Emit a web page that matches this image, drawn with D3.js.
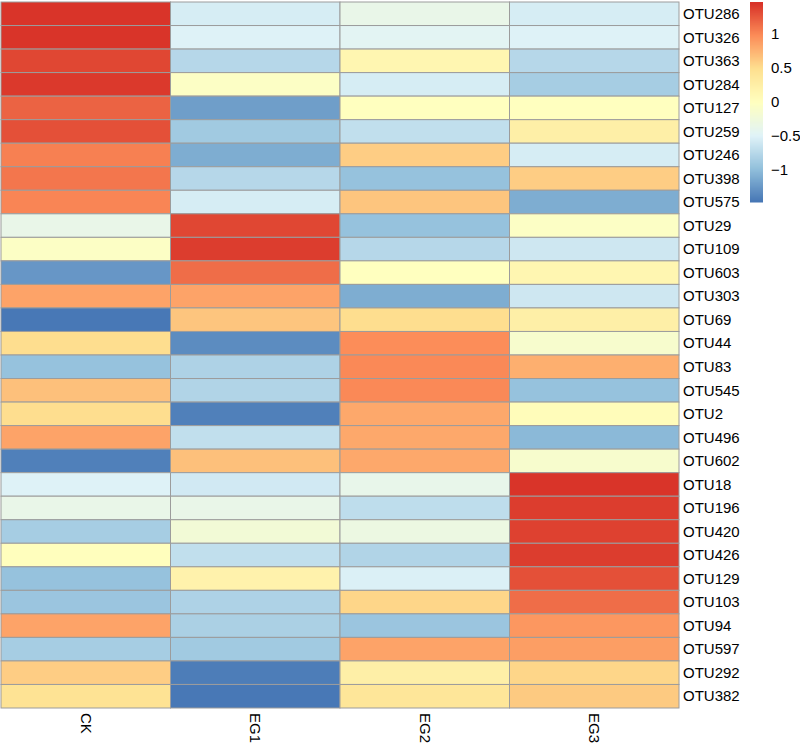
<!DOCTYPE html>
<html>
<head>
<meta charset="utf-8">
<script src="https://cdn.jsdelivr.net/npm/d3@7.9.0/dist/d3.min.js"></script>
<style>
  body { margin: 0; background: #fff; }
  text { font-family: "Liberation Sans", Arial, Helvetica, sans-serif; fill: #000; }
</style>
</head>
<body>
<svg id="chart" width="800" height="745"></svg>
<script>
// row-scaled values (z-scores)
const otus = ['OTU286','OTU326','OTU363','OTU284','OTU127','OTU259','OTU246','OTU398','OTU575',
  'OTU29','OTU109','OTU603','OTU303','OTU69','OTU44','OTU83','OTU545','OTU2','OTU496','OTU602',
  'OTU18','OTU196','OTU420','OTU426','OTU129','OTU103','OTU94','OTU597','OTU292','OTU382'];
const groups = ['CK', 'EG1', 'EG2', 'EG3'];

const ck  = [1.45, 1.45, 1.35, 1.42, 1.2, 1.3, 1.05, 1.1, 1.02,
  -0.35, -0.05, -1.25, 0.85, -1.45, 0.5, -0.95, 0.68, 0.5, 0.85, -1.4,
  -0.5, -0.35, -0.85, 0.02, -0.95, -0.92, 0.85, -0.85, 0.6, 0.45];
const eg1 = [-0.55, -0.5, -0.75, -0.05, -1.2, -0.88, -1.1, -0.75, -0.55,
  1.35, 1.4, 1.15, 0.85, 0.65, -1.32, -0.8, -0.78, -1.4, -0.68, 0.68,
  -0.58, -0.35, -0.2, -0.68, 0.2, -0.8, -0.82, -0.88, -1.42, -1.45];
const eg2 = [-0.35, -0.45, 0.15, -0.55, 0.0, -0.68, 0.6, -0.95, 0.65,
  -0.95, -0.75, 0.0, -1.1, 0.5, 0.98, 1.0, 1.0, 0.82, 0.82, 0.82,
  -0.37, -0.7, -0.3, -0.78, -0.52, 0.55, -0.92, 0.85, 0.25, 0.4];
const eg3 = [-0.55, -0.5, -0.75, -0.85, 0.0, 0.25, -0.55, 0.6, -1.1,
  -0.05, -0.6, 0.15, -0.6, 0.25, -0.12, 0.78, -0.95, 0.05, -1.02, -0.12,
  1.45, 1.4, 1.38, 1.4, 1.3, 1.15, 0.92, 0.88, 0.55, 0.62];

const legendTicks = [-1, -0.5, 0, 0.5, 1];
const palette = ['#4575B4', '#91BFDB', '#E0F3F8', '#FFFFBF', '#FEE090', '#FC8D59', '#D73027'];
const vmin = -1.47, vmax = 1.47;

const columns = [ck, eg1, eg2, eg3];
const cells = [];
otus.forEach((otu, i) => {
  groups.forEach((g, j) => {
    cells.push({ otu: otu, group: g, value: columns[j][i] });
  });
});

const svg = d3.select('#chart');

const x = d3.scaleBand().domain(groups).range([1, 679]);
const y = d3.scaleBand().domain(otus).range([2, 708]);

const color = d3.scaleLinear()
  .domain(d3.range(palette.length).map(k => vmin + k * (vmax - vmin) / (palette.length - 1)))
  .range(palette)
  .interpolate(d3.interpolateRgb);

// heatmap cells
svg.append('g')
  .selectAll('rect')
  .data(cells)
  .join('rect')
  .attr('x', d => x(d.group))
  .attr('y', d => y(d.otu))
  .attr('width', x.bandwidth())
  .attr('height', y.bandwidth())
  .attr('fill', d => color(d.value))
  .attr('stroke', '#9c9c9c')
  .attr('stroke-width', 1);

// row labels
svg.append('g')
  .selectAll('text')
  .data(otus)
  .join('text')
  .attr('x', 683)
  .attr('y', d => y(d) + y.bandwidth() / 2)
  .attr('dy', '0.35em')
  .style('font-size', '15px')
  .text(d => d);

// column labels, rotated
svg.append('g')
  .selectAll('text')
  .data(groups)
  .join('text')
  .attr('transform', d => `translate(${x(d) + x.bandwidth() / 2},713) rotate(90)`)
  .attr('dy', '0.35em')
  .style('font-size', '15px')
  .text(d => d);

// colour key
const ly = d3.scaleLinear().domain([vmin, vmax]).range([202, 2]);
const steps = d3.range(100).map(k => vmin + (k + 0.5) * (vmax - vmin) / 100);
const stepH = (ly(vmin) - ly(vmax)) / 100;
const key = svg.append('g');
key.selectAll('rect')
  .data(steps)
  .join('rect')
  .attr('x', 750)
  .attr('y', d => ly(d) - stepH / 2)
  .attr('width', 13)
  .attr('height', stepH + 0.5)
  .attr('fill', d => color(d));

key.selectAll('text')
  .data(legendTicks)
  .join('text')
  .attr('x', 771)
  .attr('y', d => ly(d))
  .attr('dy', '0.35em')
  .style('font-size', '15px')
  .text(d => d3.format('')(d));
</script>
</body>
</html>
